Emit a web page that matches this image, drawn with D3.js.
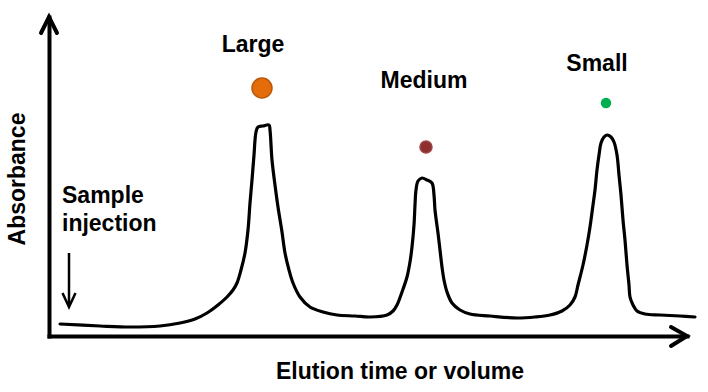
<!DOCTYPE html>
<html>
<head>
<meta charset="utf-8">
<script src="https://cdn.jsdelivr.net/npm/d3@7"></script>
<style>
  html, body { margin: 0; padding: 0; background: #fff; }
  svg { display: block; }
  text { font-family: "Liberation Sans", Arial, sans-serif; font-weight: bold; fill: #000; }
</style>
</head>
<body>
<svg id="chart" width="708" height="392"></svg>
<script>
// Chromatogram trace (elution units vs absorbance units)
const elution = [11, 51, 81, 111, 131, 146, 158, 169, 178, 184, 188, 192, 196, 199, 201, 203, 205, 207, 209, 214, 220, 221, 223, 226, 229, 233, 236, 240, 244, 251, 261, 274, 288, 306, 321, 338, 344, 348, 353, 358, 361, 363, 365, 366, 367, 369, 373, 378, 383, 385, 386, 389, 391, 393, 395, 398, 403, 411, 421, 441, 468, 486, 501, 513, 521, 526, 529, 534, 538, 541, 544, 546, 548, 550, 552, 555, 558, 562, 565, 568, 570, 572, 574, 576, 578, 580, 581, 584, 588, 596, 611, 631, 646];
const absorbance = [12, 10, 9, 10, 13, 17, 23, 31, 39, 46, 53, 66, 83, 106, 133, 156, 181, 204, 209, 210, 211, 206, 176, 151, 129, 104, 83, 66, 53, 39, 29, 24, 21, 20, 19, 21, 25, 31, 44, 59, 74, 89, 111, 131, 146, 155, 158, 156, 153, 141, 126, 103, 86, 69, 56, 44, 33, 26, 22, 20, 18, 19, 21, 25, 31, 39, 51, 71, 91, 109, 131, 146, 166, 181, 193, 199, 201, 199, 194, 181, 161, 141, 116, 96, 71, 51, 39, 31, 25, 22, 21, 20, 19];

// Peak annotations
const peakNames = ["Large", "Medium", "Small"];
const peakLabelElution = [204, 375, 548];
const peakLabelHeight = [284, 248, 265];
const particleElution = [213, 377, 557];
const particleHeight = [248, 189, 233];
const particleSize = [10, 6, 4.5];
const particleColors = ["#E46C0A", "#8E2F2F", "#00B050"];
const particleStroke = ["#B9570A", "#A04545", "#00B050"];

const injectionElution = 20;
const injectionTop = 83;
const injectionBottom = 29;

const xTitle = "Elution time or volume";
const yTitle = "Absorbance";
const injectionLines = ["Sample", "injection"];

const svg = d3.select("#chart");
const x = d3.scaleLinear().domain([0, 638]).range([49, 687]);
const y = d3.scaleLinear().domain([0, 319]).range([336, 17]);

// Axes (no ticks), thick lines with open arrowheads
const gx = svg.append("g").attr("transform", `translate(0,${y(0)})`)
  .call(d3.axisBottom(x).tickValues([]).tickSizeOuter(0));
const gy = svg.append("g").attr("transform", `translate(${x(0)},0)`)
  .call(d3.axisLeft(y).tickValues([]).tickSizeOuter(0));
[gx, gy].forEach(g => g.select(".domain")
  .attr("stroke", "#000").attr("stroke-width", 4).attr("stroke-linecap", "square"));

const xEnd = x.range()[1], yEnd = y.range()[1];
svg.append("path")
  .attr("d", `M${xEnd - 16},${y(0) - 9}L${xEnd},${y(0)}L${xEnd - 16},${y(0) + 10}`)
  .attr("fill", "none").attr("stroke", "#000").attr("stroke-width", 4)
  .attr("stroke-linejoin", "miter").attr("stroke-linecap", "round");
svg.append("path")
  .attr("d", `M${x(0) - 8},${yEnd + 16}L${x(0)},${yEnd}L${x(0) + 8},${yEnd + 16}`)
  .attr("fill", "none").attr("stroke", "#000").attr("stroke-width", 4)
  .attr("stroke-linejoin", "miter").attr("stroke-linecap", "round");

// Trace
const pts = elution.map((e, i) => [e, absorbance[i]]);
const line = d3.line().x(d => x(d[0])).y(d => y(d[1])).curve(d3.curveCatmullRom.alpha(0.5));
svg.append("path").datum(pts)
  .attr("d", line)
  .attr("fill", "none").attr("stroke", "#000").attr("stroke-width", 3.2)
  .attr("stroke-linejoin", "round").attr("stroke-linecap", "round");

// Particles
svg.selectAll("circle.particle").data(peakNames).join("circle")
  .attr("class", "particle")
  .attr("cx", (d, i) => x(particleElution[i]))
  .attr("cy", (d, i) => y(particleHeight[i]))
  .attr("r", (d, i) => particleSize[i])
  .attr("fill", (d, i) => particleColors[i])
  .attr("stroke", (d, i) => particleStroke[i])
  .attr("stroke-width", 1.5);

// Peak labels
svg.selectAll("text.peak").data(peakNames).join("text")
  .attr("class", "peak")
  .attr("x", (d, i) => x(peakLabelElution[i]))
  .attr("y", (d, i) => y(peakLabelHeight[i]))
  .attr("text-anchor", "middle")
  .attr("font-size", 23)
  .text(d => d);

// Sample injection annotation
const ix = x(injectionElution);
svg.append("line")
  .attr("x1", ix).attr("x2", ix)
  .attr("y1", y(injectionTop)).attr("y2", y(injectionBottom) - 2)
  .attr("stroke", "#000").attr("stroke-width", 2.5);
svg.append("path")
  .attr("d", `M${ix - 6.5},${y(injectionBottom) - 14}L${ix},${y(injectionBottom)}L${ix + 6.5},${y(injectionBottom) - 14}`)
  .attr("fill", "none").attr("stroke", "#000").attr("stroke-width", 2.5);
svg.append("text")
  .attr("x", 62).attr("y", 203)
  .attr("font-size", 23)
  .selectAll("tspan").data(injectionLines).join("tspan")
  .attr("x", 62).attr("dy", (d, i) => i === 0 ? 0 : 28)
  .text(d => d);

// Axis titles
svg.append("text")
  .attr("x", 400).attr("y", 379)
  .attr("text-anchor", "middle")
  .attr("font-size", 23)
  .text(xTitle);
svg.append("text")
  .attr("transform", "translate(25,179) rotate(-90)")
  .attr("text-anchor", "middle")
  .attr("font-size", 23)
  .text(yTitle);
</script>
</body>
</html>
